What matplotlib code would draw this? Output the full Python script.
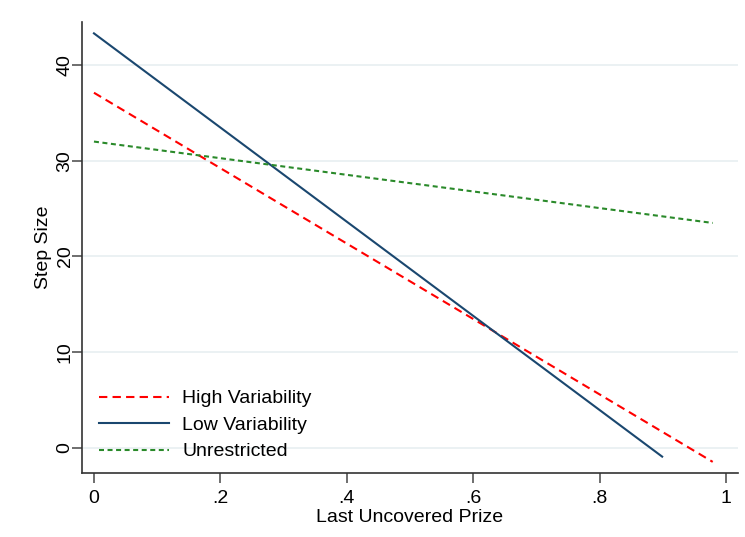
import matplotlib
matplotlib.use("Agg")
import matplotlib.pyplot as plt

plt.rcParams['font.family'] = ['Liberation Sans', 'DejaVu Sans']

# fitted lines, endpoints
high_x = [0.0, 0.979]
high_y = [37.1, -1.45]
low_x = [0.0, 0.899]
low_y = [43.3, -0.9]
unres_x = [0.0, 0.979]
unres_y = [32.0, 23.5]

x_ticks = [0, 0.2, 0.4, 0.6, 0.8, 1.0]
x_labels = ['0', '.2', '.4', '.6', '.8', '1']
y_ticks = [0, 10, 20, 30, 40]

fs = 14

fig = plt.figure(figsize=(7.45, 5.37), dpi=100)
ax = fig.add_axes([0.110, 0.1192, 0.8806, 0.8399])

for y in y_ticks:
    ax.axhline(y, color='#e8eff1', lw=1.2, zorder=0)

ax.plot(high_x, high_y, color='#ff0000', lw=1.5, dashes=(4, 2.5), label='High Variability')
ax.plot(low_x, low_y, color='#1a476f', lw=1.5, label='Low Variability')
ax.plot(unres_x, unres_y, color='#2a8a2a', lw=1.5, dashes=(2.4, 1.7), label='Unrestricted')

ax.set_xlim(-0.019, 1.019)
ax.set_ylim(-2.61, 44.49)
ax.set_xticks(x_ticks)
ax.set_xticklabels(x_labels)
ax.set_yticks(y_ticks)
ax.set_yticklabels([str(v) for v in y_ticks], rotation=90, va='center')

ax.spines['top'].set_visible(False)
ax.spines['right'].set_visible(False)
for s in ['left', 'bottom']:
    ax.spines[s].set_color('#333333')
    ax.spines[s].set_linewidth(1.2)
ax.tick_params(axis='both', labelsize=fs, length=7, width=1.2, color='#555555')
ax.tick_params(axis='x', pad=5)
ax.tick_params(axis='y', pad=-1)

ax.set_xlabel('Last Uncovered Prize', fontsize=fs, labelpad=2)
ax.set_ylabel('Step Size', fontsize=fs, labelpad=3.5)

ax.legend(loc='lower left', bbox_to_anchor=(0.0, -0.011), frameon=False, fontsize=fs,
          handlelength=3.6, handletextpad=0.65, labelspacing=0.46)

fig.savefig('out.png', dpi=100)
